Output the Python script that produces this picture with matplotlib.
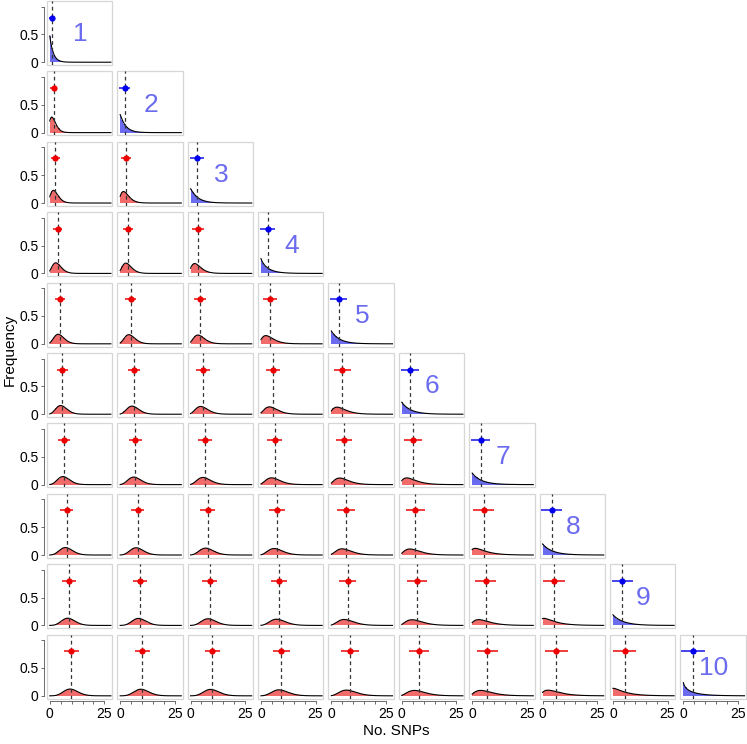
import math
import numpy as np
import matplotlib
matplotlib.use("Agg")
import matplotlib.pyplot as plt
import matplotlib.patches as patches

plt.rcParams['font.family'] = ['Liberation Sans', 'DejaVu Sans']

# mean number of SNPs per panel (row = sample i, columns j <= i)
means = [
    [1.1],
    [1.85, 2.0],
    [2.6, 2.8, 2.8],
    [3.6, 3.6, 3.4, 3.0],
    [4.6, 4.8, 4.5, 4.2, 3.4],
    [5.7, 6.2, 5.7, 5.4, 5.0, 3.7],
    [6.7, 7.0, 6.7, 6.3, 5.8, 5.2, 3.9],
    [7.8, 8.0, 7.8, 7.3, 6.7, 6.2, 5.3, 4.1],
    [8.8, 9.0, 8.8, 8.3, 7.5, 7.0, 6.2, 5.3, 4.3],
    [9.9, 10.1, 9.9, 9.3, 8.4, 7.9, 6.9, 6.3, 5.3, 4.4],
]
# half width of the horizontal error bars
sds = [
    [1.5],
    [1.6, 2.4],
    [1.9, 2.2, 3.2],
    [2.2, 2.3, 2.6, 3.6],
    [2.4, 2.5, 2.7, 3.2, 3.9],
    [2.6, 2.8, 3.0, 3.3, 3.8, 4.2],
    [2.8, 3.0, 3.2, 3.5, 3.8, 4.2, 4.4],
    [3.0, 3.1, 3.3, 3.6, 3.9, 4.3, 4.8, 4.6],
    [3.1, 3.2, 3.4, 3.7, 4.0, 4.4, 4.8, 5.2, 4.8],
    [3.3, 3.4, 3.5, 3.8, 4.1, 4.5, 4.9, 5.2, 5.4, 5.5],
]
panel_labels = ['1', '2', '3', '4', '5', '6', '7', '8', '9', '10']
x_ticks = [0, 5, 10, 15, 20, 25]
x_ticklabels = ['0', '', '', '', '', '25']
y_ticks = [0, 0.5, 1.0]
y_ticklabels = ['0', '0.5', '']

red_fill = '#f26b6b'
blue_fill = '#6b6bef'
label_col = '#6b6bef'


def nb_pmf(x, m, s):
    # negative binomial with given mean / sd (continuous in x)
    var = max(s * s, m * 1.02)
    r = m * m / (var - m)
    p = r / (r + m)
    lg = np.array([math.lgamma(v + r) - math.lgamma(r) - math.lgamma(v + 1) for v in x])
    return np.exp(lg + r * math.log(p) + x * math.log(1 - p))


W, H = 747, 744
fig = plt.figure(figsize=(W / 100, H / 100), dpi=100)

xs_int = np.arange(0, 29)
xs_fine = np.linspace(0, 28, 300)

for i in range(10):
    for j in range(i + 1):
        left = 46.7 + j * 70.4
        top = 1 + i * 70.4
        ax = fig.add_axes([left / W, 1 - (top + 64) / H, 65.5 / W, 64 / H])
        m = means[i][j]
        s = sds[i][j]
        diag = (i == j)
        fill = blue_fill if diag else red_fill
        pt = '#0000ee' if diag else '#ee0000'
        bar = '#4444ee' if diag else '#f03c3c'

        ax.fill_between(xs_int, 0, nb_pmf(xs_int, m, s), color=fill, lw=0, step='mid')
        ax.plot(xs_fine, nb_pmf(xs_fine, m, s), color='black', lw=0.8)
        ax.axvline(m, color='#333333', ls=(0, (3, 2.5)), lw=0.9)
        ax.plot([m - s, m + s], [0.8, 0.8], color=bar, lw=1.4, solid_capstyle='butt')
        ax.plot([m], [0.8], 'o', color=pt, ms=4.5, mec='none')
        if diag:
            ax.text(14, 0.5, panel_labels[i], color=label_col, fontsize=19,
                    ha='center', va='center')

        ax.set_xlim(-1.4, 28.6)
        ax.set_ylim(-0.05, 1.1)
        # light grey panel border
        ax.add_patch(patches.Rectangle((0, 0), 1, 1, transform=ax.transAxes, fill=False,
                                       edgecolor='#d6d6d6', lw=0.9, clip_on=False))
        for sp in ax.spines.values():
            sp.set_visible(False)
        ax.set_xticks(x_ticks)
        ax.set_yticks(y_ticks)
        ax.tick_params(length=2.5, width=0.6, color='#555555', labelsize=10, pad=1.5)
        if j == 0:
            ax.set_yticklabels(y_ticklabels)
            ax.spines['left'].set_visible(True)
            ax.spines['left'].set_position(('outward', 2))
            ax.spines['left'].set_bounds(0, 1)
            ax.spines['left'].set_color('#555555')
            ax.spines['left'].set_linewidth(0.6)
        else:
            ax.tick_params(left=False, labelleft=False)
        if i == 9:
            ax.set_xticklabels(x_ticklabels)
            ax.spines['bottom'].set_visible(True)
            ax.spines['bottom'].set_position(('outward', 2))
            ax.spines['bottom'].set_bounds(0, 25)
            ax.spines['bottom'].set_color('#555555')
            ax.spines['bottom'].set_linewidth(0.6)
        else:
            ax.tick_params(bottom=False, labelbottom=False)

fig.text(10 / W, 1 - 350 / H, 'Frequency', rotation=90, ha='center', va='center', fontsize=11)
fig.text(396 / W, 1 - 731 / H, 'No. SNPs', ha='center', va='center', fontsize=11)

fig.savefig('out.png', dpi=100)
